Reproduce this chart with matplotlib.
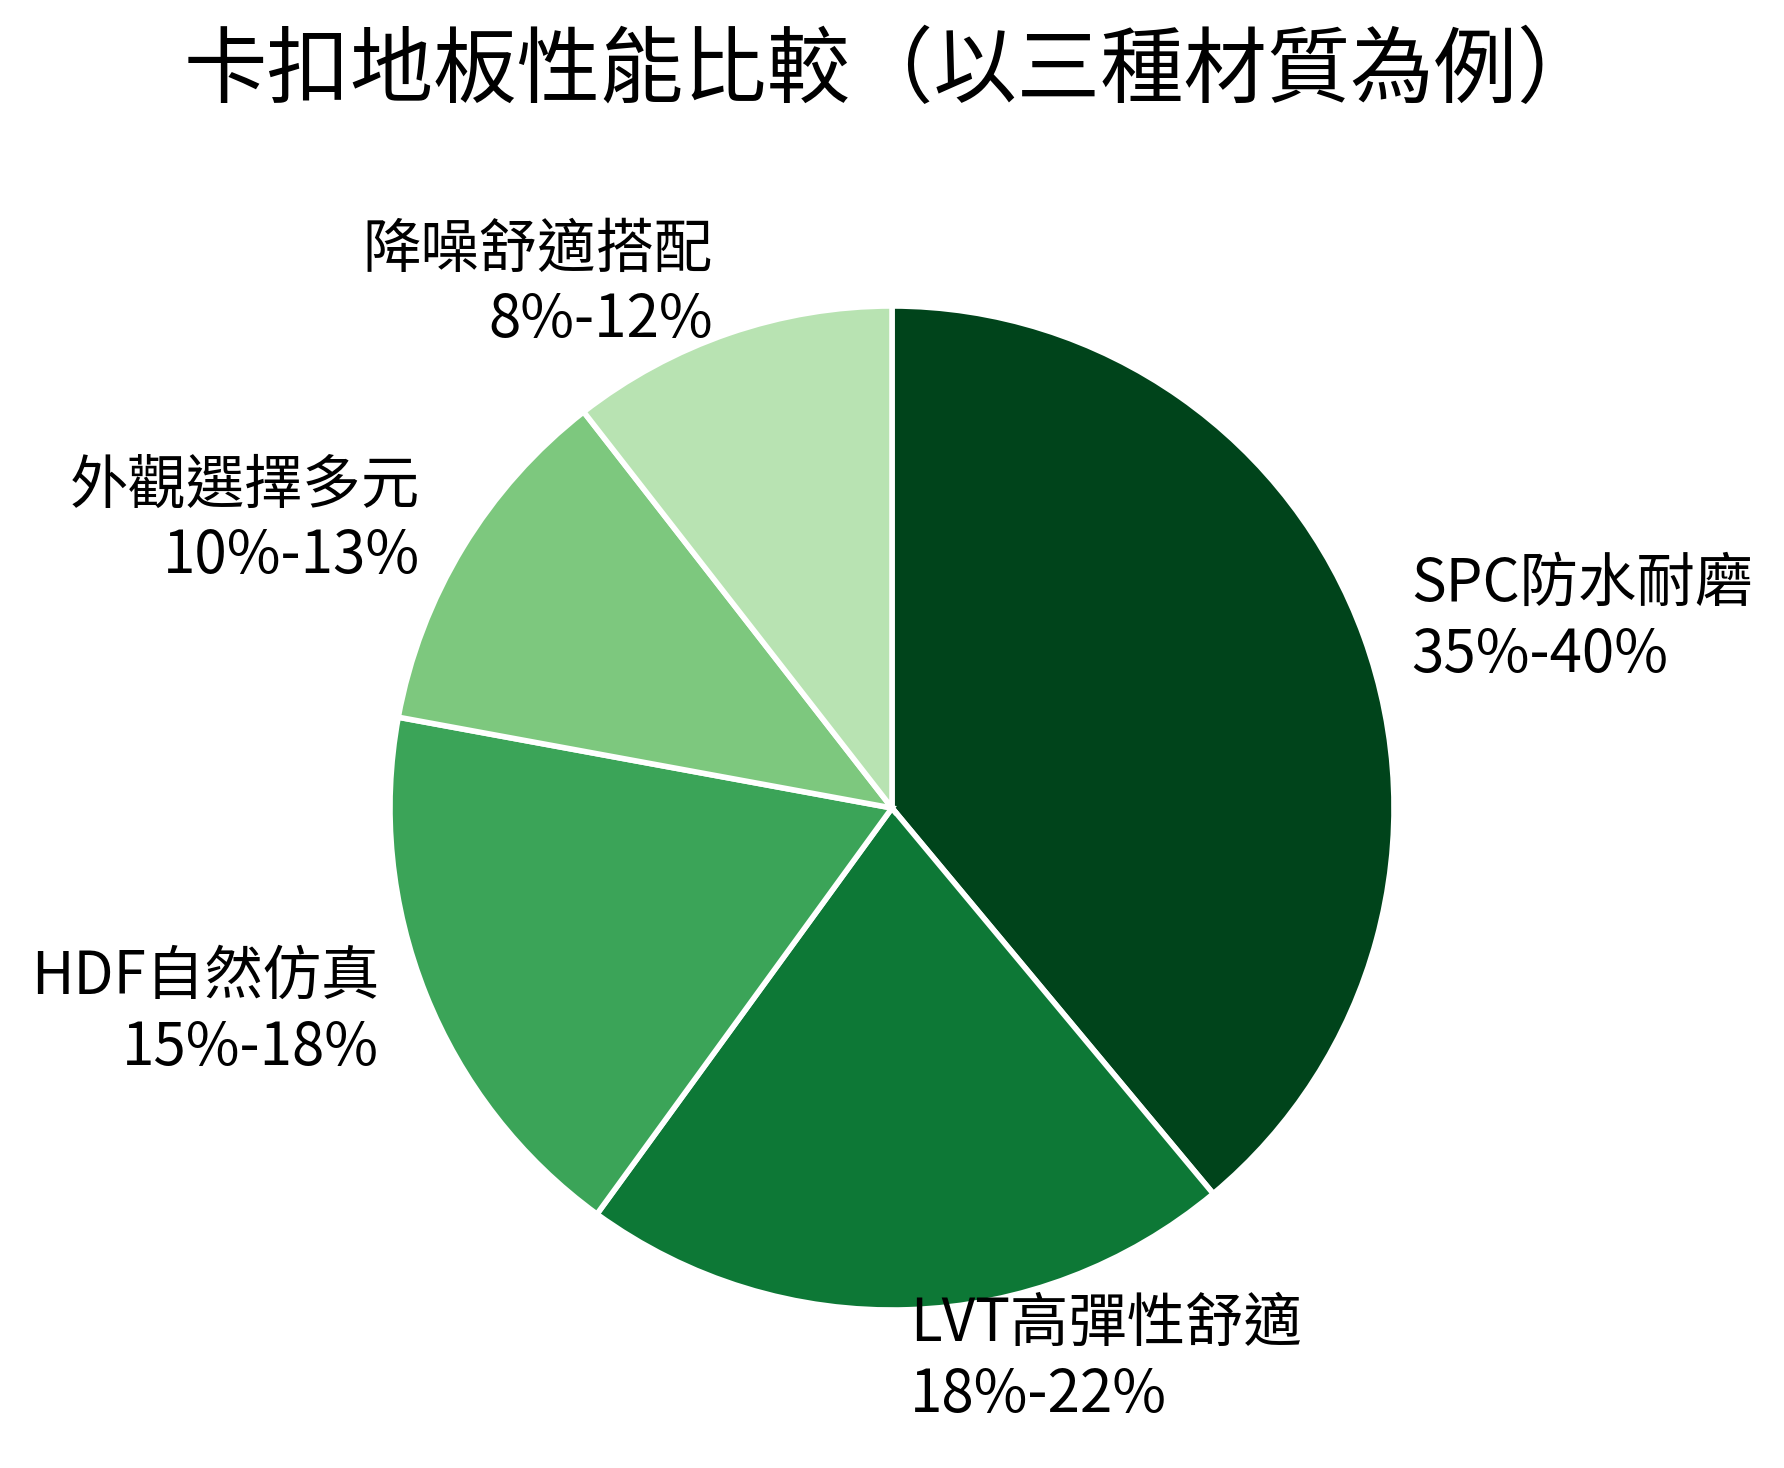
import numpy as np
import matplotlib
matplotlib.use('Agg')
import matplotlib.pyplot as plt

plt.rcParams['font.family'] = ['Noto Sans CJK TC', 'DejaVu Sans']

# shares of each flooring type (clockwise from top)
categories = ['SPC防水耐磨', 'LVT高彈性舒適', 'HDF自然仿真', '外觀選擇多元', '降噪舒適搭配']
ranges = ['35%-40%', '18%-22%', '15%-18%', '10%-13%', '8%-12%']
shares = [37, 20, 17, 11, 10]
title = '卡扣地板性能比較（以三種材質為例）'

colors = plt.cm.Greens(np.linspace(0.3, 1.0, len(shares)))[::-1]
labels = [c + '\n' + r for c, r in zip(categories, ranges)]

W, H = 1784, 1468
fig = plt.figure(figsize=(W / 200, H / 200), dpi=200)
# pie radius ~502px, centre at (892, 808) px from top-left
half = 1.25 * 502
ax = fig.add_axes([(892 - half) / W, (H - 808 - half) / H, 2 * half / W, 2 * half / H])
ax.pie(shares, labels=labels, colors=colors, startangle=90, counterclock=False,
	labeldistance=1.1,
	wedgeprops=dict(edgecolor='white', linewidth=2),
	textprops=dict(fontsize=21, color='black'))
ax.set_aspect('equal')

fig.text(892 / W, 1 - 72 / H, title, ha='center', va='center', fontsize=30)

fig.savefig('out.png', dpi=200)
